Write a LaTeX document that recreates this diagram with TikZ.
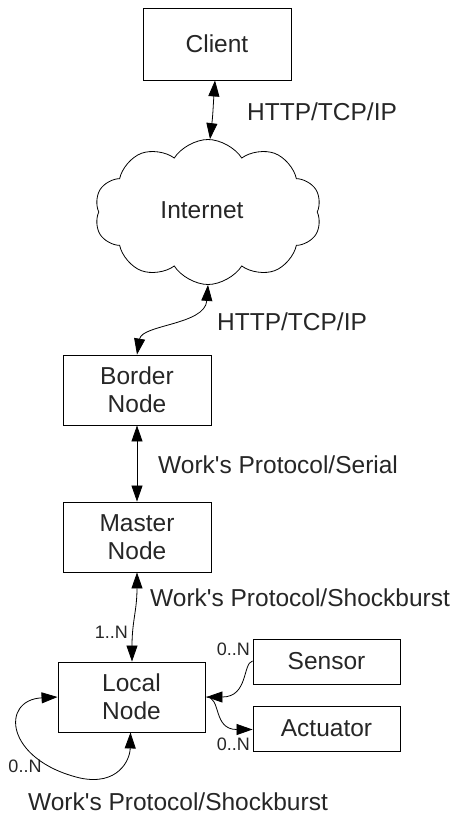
\documentclass[tikz,border=0pt]{standalone}
\usepackage{fontspec}
\setmainfont{Liberation Sans}
\usetikzlibrary{shapes.symbols,arrows.meta}
\begin{document}
\begin{tikzpicture}[x=1pt,y=-1pt,
  box/.style={draw=black,line width=0.9pt,minimum width=148pt,inner sep=0pt,align=center,
    font=\fontsize{24.5}{28}\selectfont,text=black!85},
  lbl/.style={inner sep=0pt,font=\fontsize{24.5}{28}\selectfont,text=black!85},
  small/.style={inner sep=0pt,font=\fontsize{18}{20}\selectfont,text=black!85},
  conn/.style={line width=0.8pt,{Triangle[length=16pt,width=11pt]}-{Triangle[length=16pt,width=11pt]}}]
\useasboundingbox (0,0) rectangle (457,815);
% nodes
\node[box,minimum height=72pt] (client) at (217,44) {Client};
\node[cloud,draw=black,line width=0.8pt,cloud puffs=10,cloud puff arc=115,aspect=1.6,
  minimum width=227pt,minimum height=145pt,inner sep=0pt,
  font=\fontsize{24.5}{28}\selectfont,text=black!85] (cloud) at (208,212) {};
\node[lbl] (inet) at (202,210) {Internet};
\node[box,minimum height=70pt] (border) at (137,390) {Border\\Node};
\node[box,minimum height=70pt] (master) at (137,537) {Master\\Node};
\node[box,minimum width=147pt,minimum height=70pt] (local) at (131.5,697) {Local\\Node};
\node[box,minimum width=147pt,minimum height=45pt] (sensor) at (326.5,661.5) {Sensor};
\node[box,minimum width=147pt,minimum height=45pt] (actuator) at (326.5,728.5) {Actuator};
% labels
\node[lbl,anchor=west] (l1) at (247,112) {HTTP/TCP/IP};
\node[lbl,anchor=west] (l2) at (217,322) {HTTP/TCP/IP};
\node[lbl,anchor=west] (l3) at (158,465) {Work\textquotesingle s Protocol/Serial};
\node[lbl,anchor=west] (l4) at (150,598) {Work\textquotesingle s Protocol/Shockburst};
\node[small,anchor=east] (n1) at (128,632) {1..N};
\node[small,anchor=east] (n2) at (250,649) {0..N};
\node[small,anchor=east] (n3) at (250,744) {0..N};
\node[small] (n4) at (25,766) {0..N};
\node[lbl] (l5) at (178,802) {Work\textquotesingle s Protocol/Shockburst};
% connectors
\draw[conn] ([xshift=-2pt]client.south) .. controls +(-2,28) and +(3,-25) .. ([xshift=2pt]cloud.north);
\draw[conn] (border.north) .. controls +(5,-30) and +(-3,40) .. (cloud.south);
\draw[conn] (border.south) -- (master.north);
\draw[conn] (master.south) .. controls +(0,38) and +(0,-40) .. ([xshift=0.5pt]local.north);
\draw[line width=0.8pt,-{Triangle[length=16pt,width=11pt]}] ([yshift=0.5pt]sensor.west) .. controls +(-10,2) and +(42,0) .. ([xshift=1pt]local.east);
\draw[line width=0.8pt,-{Triangle[length=16pt,width=11pt]}] ([xshift=1pt]local.east) .. controls +(15,0) and +(-40,0) .. ([yshift=-1pt]actuator.west);
\draw[conn] (local.west) .. controls (0,700) and (5,760) .. (80,778) .. controls (118,786) and (130,760) .. ([xshift=-1pt]local.south);
\end{tikzpicture}
\end{document}
